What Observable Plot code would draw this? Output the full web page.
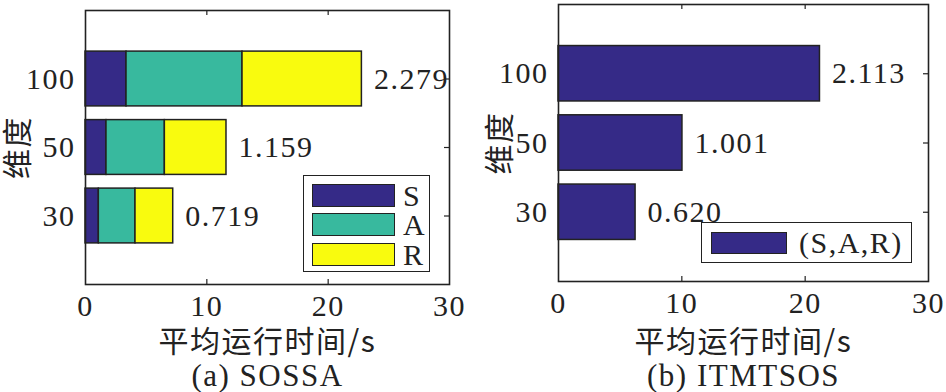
<!DOCTYPE html>
<html>
<head>
<meta charset="utf-8">
<script src="https://cdn.jsdelivr.net/npm/d3@7"></script>
<script src="https://cdn.jsdelivr.net/npm/@observablehq/plot@0.6"></script>
<style>
  html, body { margin: 0; padding: 0; background: #fff; }
  #wrap { position: relative; width: 946px; height: 392px; display: flex; }
  .panel { position: relative; width: 473px; height: 392px; }
  .legend { position: absolute; border: 1.5px solid #222; background: #fff; box-sizing: border-box;
            font-family: "Liberation Serif", serif; font-size: 30px; color: #222; letter-spacing: 1.5px; }
  .sw { border: 1.5px solid #222; box-sizing: border-box; }
  svg text { letter-spacing: 1.5px; }
</style>
</head>
<body>
<div id="wrap"></div>
<script>
// ---- data ----
const dims = ["30", "50", "100"];
const series = ["S", "A", "R"];
const seriesColors = ["#352a87", "#38b99e", "#f9fb0e"];
const sTimes = [1.10, 1.73, 3.38];
const aTimes = [3.02, 4.81, 9.56];
const rTimes = [3.11, 5.08, 9.84];
const sossaLabels = ["0.719", "1.159", "2.279"];
const itmTimes = [6.25, 10.05, 21.2];
const itmLabels = ["0.620", "1.001", "2.113"];
const itmSeries = ["(S,A,R)"];
const xTicks = [0, 10, 20, 30];
const xLabel = "平均运行时间/s";
const yLabel = "维度";
const captions = ["(a) SOSSA", "(b) ITMTSOS"];

const wrap = document.getElementById("wrap");
const FS = 30;
const ink = "#222";
const SERIF = '"Liberation Serif", "Times New Roman", serif';
const CJK = '"Noto Sans CJK SC", "Liberation Serif", sans-serif';

// stacked rows for SOSSA
const stackRows = [];
dims.forEach((d, i) => {
  const vals = [sTimes[i], aTimes[i], rTimes[i]];
  let acc = 0;
  vals.forEach((v, k) => {
    stackRows.push({dim: d, idx: i + 1, series: series[k], x1: acc, x2: acc + v});
    acc += v;
  });
});
const sossaTotals = dims.map((d, i) => ({idx: i + 1, total: sTimes[i] + aTimes[i] + rTimes[i], label: sossaLabels[i]}));
const itmRows = dims.map((d, i) => ({idx: i + 1, value: itmTimes[i], label: itmLabels[i], series: itmSeries[0]}));

function panel({marginTop, marginBottom, marginLeft, marginRight, bars, labels, labelKey, yLabelDx, caption}) {
  const width = 473, height = 392;
  const fh = height - marginTop - marginBottom;
  const fw = width - marginLeft - marginRight;
  const bottom = height - marginBottom;
  const tl = 5;
  return Plot.plot({
    width, height, marginTop, marginBottom, marginLeft, marginRight,
    style: {fontSize: FS + "px", color: ink, background: "transparent"},
    x: {domain: [0, 30]},
    y: {domain: [0, 4]},
    color: {domain: series, range: seriesColors},
    marks: [
      ...bars,
      Plot.text(labels, {x: labelKey, y: "idx", text: "label", textAnchor: "start", dx: 12, fontSize: FS, fontFamily: SERIF, fill: ink}),
      // inward ticks
      Plot.tickX(xTicks.slice(1, -1), {x: d => d, insetTop: fh - tl, stroke: ink, strokeWidth: 1.2}),
      Plot.tickX(xTicks.slice(1, -1), {x: d => d, insetBottom: fh - tl, stroke: ink, strokeWidth: 1.2}),
      Plot.tickY([1, 2, 3], {y: d => d, insetLeft: fw - tl, stroke: ink, strokeWidth: 1.2}),
      Plot.axisX({ticks: xTicks, tickSize: 0, tickPadding: 10, tickFormat: d => String(d), fontSize: FS, fontFamily: SERIF, fill: ink, label: null}),
      Plot.axisY({ticks: [1, 2, 3], tickSize: 0, tickPadding: 10, tickFormat: d => dims[d - 1], fontSize: FS, fontFamily: SERIF, fill: ink, label: null}),
      Plot.frame({stroke: ink, strokeWidth: 1.6}),
      Plot.text([yLabel], {frameAnchor: "left", textAnchor: "middle", rotate: -90, dx: yLabelDx, fontSize: 30, fontFamily: CJK, fill: ink, lineAnchor: "middle"}),
      Plot.text([xLabel], {frameAnchor: "bottom", textAnchor: "middle", dy: 342 - bottom, lineAnchor: "middle", fontSize: 30, fontFamily: CJK, fill: ink}),
      Plot.text([caption], {frameAnchor: "bottom", textAnchor: "middle", dy: 376 - bottom, lineAnchor: "middle", fontSize: 31, fontFamily: SERIF, fill: ink})
    ]
  });
}

// Left panel
const left = document.createElement("div");
left.className = "panel";
left.appendChild(panel({
  marginTop: 10, marginBottom: 108, marginLeft: 85, marginRight: 24,
  bars: [Plot.rectX(stackRows, {x1: "x1", x2: "x2", y1: d => d.idx - 0.4, y2: d => d.idx + 0.4, fill: "series", stroke: ink, strokeWidth: 1.5})],
  labels: sossaTotals, labelKey: "total", yLabelDx: -67, caption: captions[0]
}));
wrap.appendChild(left);

// Right panel
const right = document.createElement("div");
right.className = "panel";
right.appendChild(panel({
  marginTop: 4, marginBottom: 111, marginLeft: 85, marginRight: 18,
  bars: [Plot.rectX(itmRows, {x1: 0, x2: "value", y1: d => d.idx - 0.4, y2: d => d.idx + 0.4, fill: seriesColors[0], stroke: ink, strokeWidth: 1.5})],
  labels: itmRows, labelKey: "value", yLabelDx: -58, caption: captions[1]
}));
wrap.appendChild(right);

// Legends (HTML overlays)
function legend(parent, box, items, sw, textX, rowYs) {
  const lg = document.createElement("div");
  lg.className = "legend";
  Object.assign(lg.style, {left: box.x + "px", top: box.y + "px", width: box.w + "px", height: box.h + "px"});
  items.forEach((it, k) => {
    const s = document.createElement("div");
    s.className = "sw";
    Object.assign(s.style, {position: "absolute", left: sw.x + "px", top: rowYs[k] + "px", width: sw.w + "px", height: sw.h + "px", background: it.color});
    lg.appendChild(s);
    const t = document.createElement("div");
    Object.assign(t.style, {position: "absolute", left: textX + "px", top: (rowYs[k] + sw.h / 2 - 12) + "px", lineHeight: "24px"});
    t.textContent = it.name;
    lg.appendChild(t);
  });
  parent.appendChild(lg);
}
legend(left, {x: 303, y: 175, w: 127, h: 97},
  series.map((s, i) => ({name: s, color: seriesColors[i]})),
  {x: 8, w: 83, h: 23}, 99, [8, 37, 67]);
legend(right, {x: 701 - 473, y: 222, w: 211, h: 41},
  itmSeries.map(s => ({name: s, color: seriesColors[0]})),
  {x: 9, w: 76, h: 22}, 97, [9]);
</script>
</body>
</html>
